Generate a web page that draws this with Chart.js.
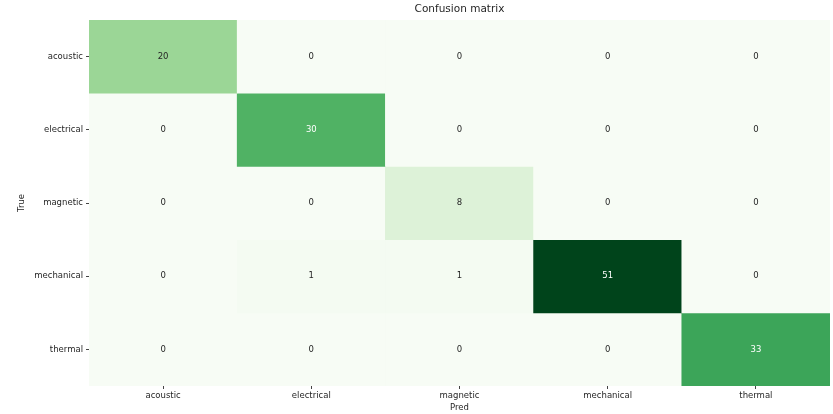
<!DOCTYPE html>
<html lang="en">
  <head>
    <meta charset="UTF-8" />
    <script src="https://cdn.jsdelivr.net/npm/chart.js@4.4.0/dist/chart.umd.min.js"></script>
    <title>Confusion matrix</title>
    <style>
      body {
        margin: 0;
        padding: 0;
        background: white;
      }
      .container {
        width: 833px;
        height: 414px;
      }
    </style>
  </head>
  <body>
    <div class="container">
      <canvas id="cm"></canvas>
    </div>
    <script>
      const predLabels = ['acoustic', 'electrical', 'magnetic', 'mechanical', 'thermal']
      const trueLabels = ['acoustic', 'electrical', 'magnetic', 'mechanical', 'thermal']
      const rowAcoustic = [20, 0, 0, 0, 0]
      const rowElectrical = [0, 30, 0, 0, 0]
      const rowMagnetic = [0, 0, 8, 0, 0]
      const rowMechanical = [0, 1, 1, 51, 0]
      const rowThermal = [0, 0, 0, 0, 33]
      const matrix = [rowAcoustic, rowElectrical, rowMagnetic, rowMechanical, rowThermal]

      // matplotlib "Greens"
      const greens = ['#f7fcf5', '#e5f5e0', '#c7e9c0', '#a1d99b', '#74c476', '#41ab5d', '#238b45', '#006d2c', '#00441b']
      const hexToRgb = (h) => [1, 3, 5].map((i) => parseInt(h.slice(i, i + 2), 16))
      const vmin = 0
      const vmax = Math.max(...matrix.flat())

      const cmap = (v) => {
        const t = Math.min(1, Math.max(0, (v - vmin) / (vmax - vmin))) * (greens.length - 1)
        const i = Math.min(greens.length - 2, Math.floor(t))
        const f = t - i
        const a = hexToRgb(greens[i])
        const b = hexToRgb(greens[i + 1])
        return a.map((c, k) => Math.round(c + (b[k] - c) * f))
      }
      const rgbStr = (c) => `rgb(${c[0]}, ${c[1]}, ${c[2]})`
      const luminance = (c) => {
        const lin = c.map((x) => {
          x = x / 255
          return x <= 0.03928 ? x / 12.92 : Math.pow((x + 0.055) / 1.055, 2.4)
        })
        return 0.2126 * lin[0] + 0.7152 * lin[1] + 0.0722 * lin[2]
      }

      const datasets = matrix.map((row, i) => ({
        data: predLabels.map(() => [i, i + 1]),
        backgroundColor: row.map((v) => rgbStr(cmap(v))),
        borderWidth: 0,
        barPercentage: 1,
        categoryPercentage: 1,
        grouped: false,
      }))

      const annotate = {
        id: 'annotate',
        afterDatasetsDraw(chart) {
          const { ctx, scales } = chart
          ctx.save()
          ctx.font = '8.5px "DejaVu Sans"'
          ctx.textAlign = 'center'
          ctx.textBaseline = 'middle'
          matrix.forEach((row, i) => {
            row.forEach((v, j) => {
              const c = cmap(v)
              ctx.fillStyle = luminance(c) > 0.408 ? '#262626' : '#ffffff'
              ctx.fillText(String(v), scales.x.getPixelForValue(j), scales.y.getPixelForValue(i + 0.5))
            })
          })
          ctx.restore()
        },
      }

      Chart.defaults.font.family = '"DejaVu Sans"'
      Chart.defaults.color = '#262626'

      new Chart(document.getElementById('cm'), {
        type: 'bar',
        data: { labels: predLabels, datasets },
        plugins: [annotate],
        options: {
          responsive: true,
          maintainAspectRatio: false,
          animation: false,
          layout: { padding: { left: 0, right: 3, top: 0, bottom: 0 } },
          plugins: {
            legend: { display: false },
            tooltip: { enabled: false },
            title: {
              display: true,
              text: 'Confusion matrix',
              fullSize: false,
              font: { size: 10.5, weight: 'normal' },
              color: '#262626',
              padding: { top: 3, bottom: 4.4 },
            },
          },
          scales: {
            x: {
              type: 'category',
              offset: true,
              afterFit: (s) => {
                s.height = 28
              },
              grid: { offset: false, drawOnChartArea: false, drawTicks: true, tickLength: 3, color: '#444' },
              border: { display: false },
              ticks: { font: { size: 8.5 }, padding: 2, maxRotation: 0, autoSkip: false },
              title: { display: true, text: 'Pred', font: { size: 8.5 }, padding: { top: 0, bottom: 1 } },
            },
            y: {
              type: 'linear',
              min: 0,
              max: 5,
              reverse: true,
              afterBuildTicks: (s) => {
                s.ticks = trueLabels.map((_, i) => ({ value: i + 0.5 }))
              },
              afterFit: (s) => {
                s.width = 89
              },
              grid: { drawOnChartArea: false, drawTicks: true, tickLength: 3, color: '#444' },
              border: { display: false },
              ticks: {
                font: { size: 8.5 },
                padding: 3,
                autoSkip: false,
                callback: (v, idx) => trueLabels[idx],
              },
              title: { display: true, text: 'True', font: { size: 8.5 }, padding: { top: 17, bottom: 0 } },
            },
          },
        },
      })
    </script>
  </body>
</html>
